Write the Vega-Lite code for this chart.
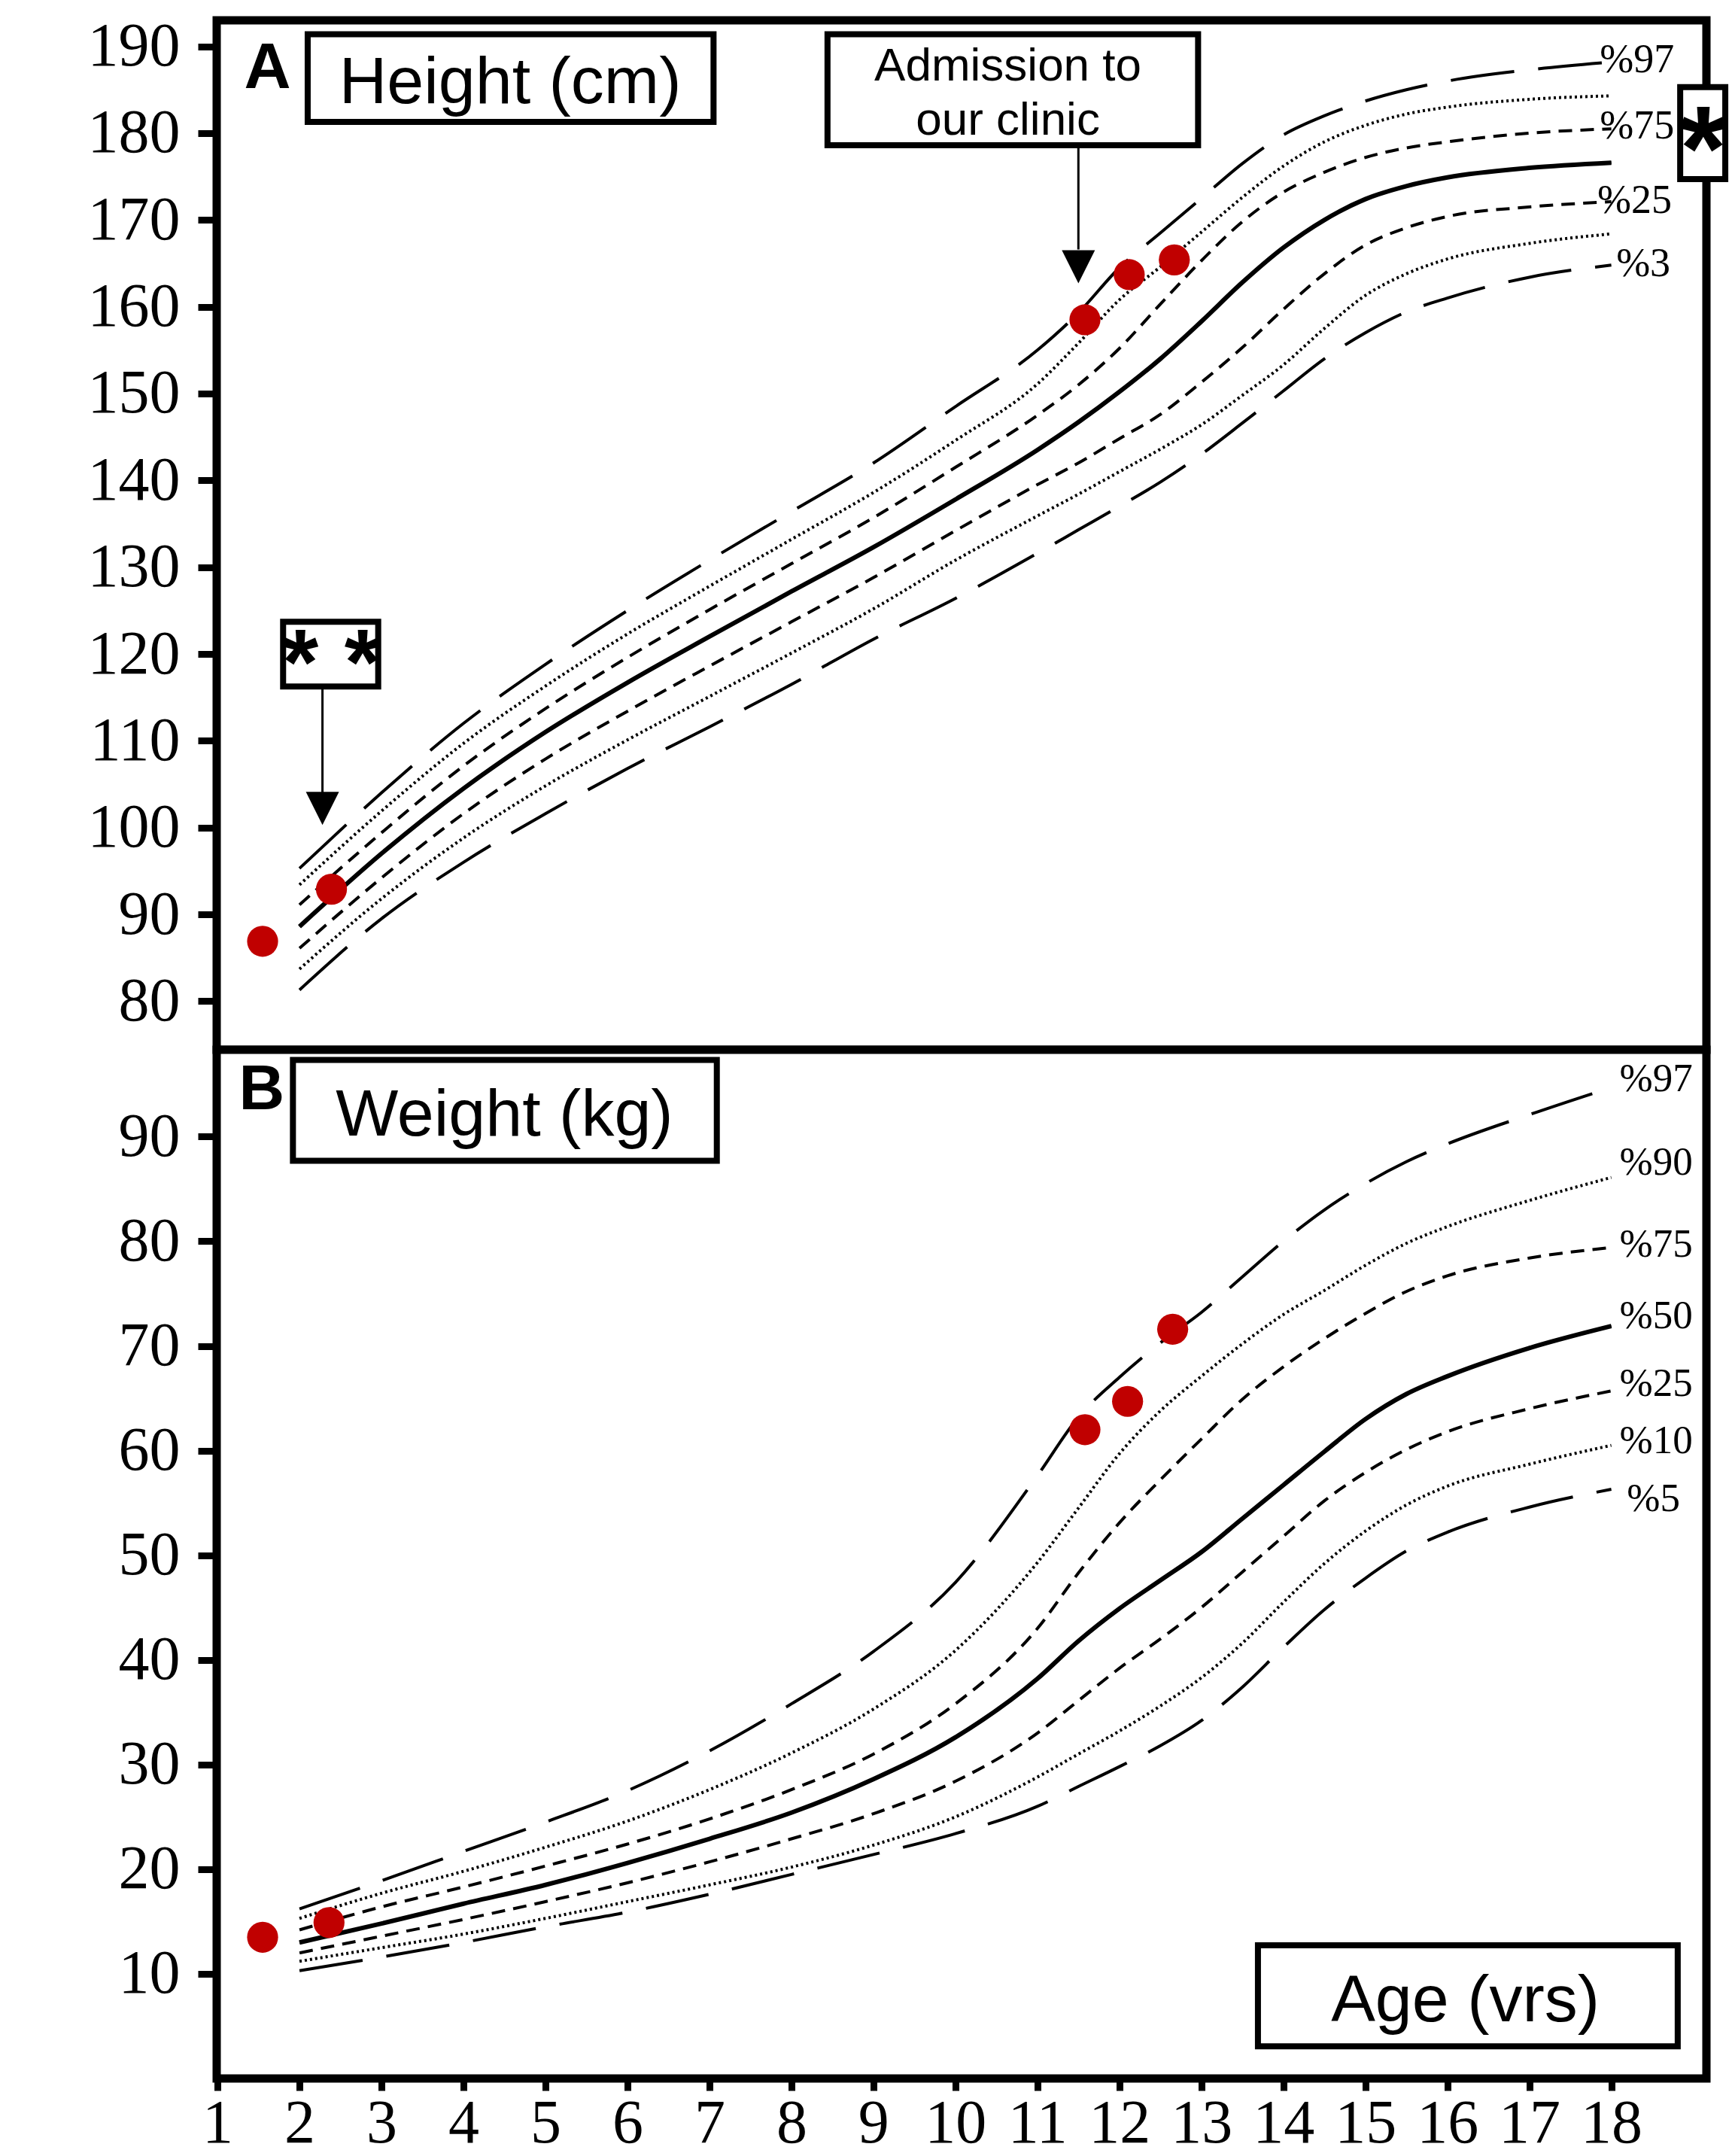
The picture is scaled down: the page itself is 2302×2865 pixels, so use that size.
{
"$schema": "https://vega.github.io/schema/vega-lite/v6.json",
"background": "white",
"padding": {"left": 110, "top": 15, "right": 5, "bottom": 0},
"spacing": 0,
"bounds": "flush",
"config": {
  "view": {"stroke": "#000", "strokeWidth": 11, "fill": "white"},
  "axis": {"domain": false, "grid": false, "ticks": true, "tickColor": "#000", "tickWidth": 9, "labelColor": "#000", "labelFont": "Liberation Serif", "labelFlush": false, "labelOverlap": false, "labelBound": false, "title": null}
},
"datasets": {
  "hgt": [
    {"age":2,"p":"97","v":95.3},{"age":3,"p":"97","v":104},{"age":4,"p":"97","v":112},{"age":5,"p":"97","v":118.8},{"age":6,"p":"97","v":125},{"age":7,"p":"97","v":130.8},{"age":8,"p":"97","v":136.4},{"age":9,"p":"97","v":142},{"age":10,"p":"97","v":148.5},{"age":11,"p":"97","v":155},{"age":11.5,"p":"97","v":159.3},{"age":12,"p":"97","v":164.5},{"age":12.5,"p":"97","v":168.5},{"age":13,"p":"97","v":172.5},{"age":13.5,"p":"97","v":176.5},{"age":14,"p":"97","v":179.8},{"age":14.5,"p":"97","v":182},{"age":15,"p":"97","v":183.7},{"age":15.5,"p":"97","v":185},{"age":16,"p":"97","v":186},{"age":17,"p":"97","v":187.3},{"age":18,"p":"97","v":188.2},
    {"age":2,"p":"90","v":93.4},{"age":3,"p":"90","v":101.9},{"age":4,"p":"90","v":109.7},{"age":5,"p":"90","v":116.3},{"age":6,"p":"90","v":122.3},{"age":7,"p":"90","v":127.8},{"age":8,"p":"90","v":133.2},{"age":9,"p":"90","v":138.6},{"age":10,"p":"90","v":144.6},{"age":11,"p":"90","v":151.1},{"age":11.5,"p":"90","v":155.8},{"age":12,"p":"90","v":160.8},{"age":12.5,"p":"90","v":164.6},{"age":13,"p":"90","v":168.6},{"age":13.5,"p":"90","v":172.6},{"age":14,"p":"90","v":176.2},{"age":14.5,"p":"90","v":179},{"age":15,"p":"90","v":180.9},{"age":15.5,"p":"90","v":182.2},{"age":16,"p":"90","v":183},{"age":17,"p":"90","v":183.9},{"age":18,"p":"90","v":184.3},
    {"age":2,"p":"75","v":91.1},{"age":3,"p":"75","v":99.4},{"age":4,"p":"75","v":107.1},{"age":5,"p":"75","v":113.7},{"age":6,"p":"75","v":119.6},{"age":7,"p":"75","v":125.1},{"age":8,"p":"75","v":130.4},{"age":9,"p":"75","v":135.7},{"age":10,"p":"75","v":141.5},{"age":11,"p":"75","v":147.5},{"age":11.5,"p":"75","v":151},{"age":12,"p":"75","v":155.2},{"age":12.5,"p":"75","v":160.3},{"age":13,"p":"75","v":165.3},{"age":13.5,"p":"75","v":169.8},{"age":14,"p":"75","v":173.2},{"age":14.5,"p":"75","v":175.5},{"age":15,"p":"75","v":177.2},{"age":15.5,"p":"75","v":178.3},{"age":16,"p":"75","v":179},{"age":17,"p":"75","v":180},{"age":18,"p":"75","v":180.5},
    {"age":2,"p":"50","v":88.6},{"age":3,"p":"50","v":97},{"age":4,"p":"50","v":104.5},{"age":5,"p":"50","v":111},{"age":6,"p":"50","v":116.7},{"age":7,"p":"50","v":122},{"age":8,"p":"50","v":127.2},{"age":9,"p":"50","v":132.3},{"age":10,"p":"50","v":137.8},{"age":11,"p":"50","v":143.5},{"age":11.5,"p":"50","v":146.7},{"age":12,"p":"50","v":150.2},{"age":12.5,"p":"50","v":154},{"age":13,"p":"50","v":158.3},{"age":13.5,"p":"50","v":162.8},{"age":14,"p":"50","v":166.8},{"age":14.5,"p":"50","v":170},{"age":15,"p":"50","v":172.4},{"age":15.5,"p":"50","v":173.9},{"age":16,"p":"50","v":174.9},{"age":17,"p":"50","v":176},{"age":18,"p":"50","v":176.6},
    {"age":2,"p":"25","v":86.1},{"age":3,"p":"25","v":94.2},{"age":4,"p":"25","v":101.6},{"age":5,"p":"25","v":107.9},{"age":6,"p":"25","v":113.4},{"age":7,"p":"25","v":118.6},{"age":8,"p":"25","v":123.7},{"age":9,"p":"25","v":128.8},{"age":10,"p":"25","v":134.2},{"age":11,"p":"25","v":139.5},{"age":11.5,"p":"25","v":142},{"age":12,"p":"25","v":144.8},{"age":12.5,"p":"25","v":147.6},{"age":13,"p":"25","v":151.3},{"age":13.5,"p":"25","v":155.3},{"age":14,"p":"25","v":159.7},{"age":14.5,"p":"25","v":163.8},{"age":15,"p":"25","v":167.1},{"age":15.5,"p":"25","v":169.1},{"age":16,"p":"25","v":170.4},{"age":17,"p":"25","v":171.5},{"age":18,"p":"25","v":172.1},
    {"age":2,"p":"10","v":83.7},{"age":3,"p":"10","v":91.8},{"age":4,"p":"10","v":98.8},{"age":5,"p":"10","v":104.8},{"age":6,"p":"10","v":110.1},{"age":7,"p":"10","v":115.1},{"age":8,"p":"10","v":120.1},{"age":9,"p":"10","v":125.2},{"age":10,"p":"10","v":130.8},{"age":11,"p":"10","v":135.9},{"age":11.5,"p":"10","v":138.4},{"age":12,"p":"10","v":141},{"age":12.5,"p":"10","v":143.6},{"age":13,"p":"10","v":146.4},{"age":13.5,"p":"10","v":149.8},{"age":14,"p":"10","v":153.3},{"age":14.5,"p":"10","v":157.5},{"age":15,"p":"10","v":161.3},{"age":15.5,"p":"10","v":163.8},{"age":16,"p":"10","v":165.5},{"age":17,"p":"10","v":167.3},{"age":18,"p":"10","v":168.4},
    {"age":2,"p":"3","v":81.3},{"age":3,"p":"3","v":89.5},{"age":4,"p":"3","v":96},{"age":5,"p":"3","v":101.6},{"age":6,"p":"3","v":106.8},{"age":7,"p":"3","v":111.6},{"age":8,"p":"3","v":116.5},{"age":9,"p":"3","v":121.7},{"age":10,"p":"3","v":126.4},{"age":11,"p":"3","v":131.6},{"age":11.5,"p":"3","v":134.3},{"age":12,"p":"3","v":137},{"age":12.5,"p":"3","v":139.8},{"age":13,"p":"3","v":143},{"age":13.5,"p":"3","v":146.6},{"age":14,"p":"3","v":150.3},{"age":14.5,"p":"3","v":154},{"age":15,"p":"3","v":157},{"age":15.5,"p":"3","v":159.4},{"age":16,"p":"3","v":161},{"age":17,"p":"3","v":163.4},{"age":18,"p":"3","v":164.8}
  ],
  "wgt": [
    {"age":2,"p":"97","v":16.2},{"age":3,"p":"97","v":18.9},{"age":4,"p":"97","v":21.7},{"age":5,"p":"97","v":24.5},{"age":6,"p":"97","v":27.5},{"age":7,"p":"97","v":31.3},{"age":8,"p":"97","v":35.8},{"age":9,"p":"97","v":40.8},{"age":10,"p":"97","v":47.4},{"age":11,"p":"97","v":57.6},{"age":11.5,"p":"97","v":63.2},{"age":12,"p":"97","v":67},{"age":12.5,"p":"97","v":70.3},{"age":13,"p":"97","v":73.2},{"age":13.5,"p":"97","v":76.6},{"age":14,"p":"97","v":80},{"age":14.5,"p":"97","v":83},{"age":15,"p":"97","v":85.5},{"age":15.5,"p":"97","v":87.6},{"age":16,"p":"97","v":89.3},{"age":17,"p":"97","v":92.1},{"age":18,"p":"97","v":94.7},
    {"age":2,"p":"90","v":15.3},{"age":3,"p":"90","v":17.7},{"age":4,"p":"90","v":19.8},{"age":5,"p":"90","v":22.1},{"age":6,"p":"90","v":24.6},{"age":7,"p":"90","v":27.6},{"age":8,"p":"90","v":31.1},{"age":9,"p":"90","v":35.3},{"age":10,"p":"90","v":40.9},{"age":11,"p":"90","v":49.3},{"age":11.5,"p":"90","v":54.5},{"age":12,"p":"90","v":59.7},{"age":12.5,"p":"90","v":63.8},{"age":13,"p":"90","v":67.1},{"age":13.5,"p":"90","v":70.2},{"age":14,"p":"90","v":73},{"age":14.5,"p":"90","v":75.3},{"age":15,"p":"90","v":77.7},{"age":15.5,"p":"90","v":79.8},{"age":16,"p":"90","v":81.4},{"age":17,"p":"90","v":83.9},{"age":18,"p":"90","v":86.1},
    {"age":2,"p":"75","v":14.2},{"age":3,"p":"75","v":16.4},{"age":4,"p":"75","v":18.3},{"age":5,"p":"75","v":20.3},{"age":6,"p":"75","v":22.4},{"age":7,"p":"75","v":24.8},{"age":8,"p":"75","v":27.6},{"age":9,"p":"75","v":31},{"age":10,"p":"75","v":35.8},{"age":11,"p":"75","v":43},{"age":11.5,"p":"75","v":48.3},{"age":12,"p":"75","v":53.1},{"age":12.5,"p":"75","v":57.2},{"age":13,"p":"75","v":61.1},{"age":13.5,"p":"75","v":64.9},{"age":14,"p":"75","v":68},{"age":14.5,"p":"75","v":70.7},{"age":15,"p":"75","v":73.1},{"age":15.5,"p":"75","v":75.2},{"age":16,"p":"75","v":76.7},{"age":17,"p":"75","v":78.4},{"age":18,"p":"75","v":79.4},
    {"age":2,"p":"50","v":13},{"age":3,"p":"50","v":14.8},{"age":4,"p":"50","v":16.7},{"age":5,"p":"50","v":18.5},{"age":6,"p":"50","v":20.6},{"age":7,"p":"50","v":22.9},{"age":8,"p":"50","v":25.4},{"age":9,"p":"50","v":28.6},{"age":10,"p":"50","v":32.6},{"age":11,"p":"50","v":38.2},{"age":11.5,"p":"50","v":41.8},{"age":12,"p":"50","v":44.9},{"age":12.5,"p":"50","v":47.6},{"age":13,"p":"50","v":50.3},{"age":13.5,"p":"50","v":53.5},{"age":14,"p":"50","v":56.7},{"age":14.5,"p":"50","v":59.9},{"age":15,"p":"50","v":63},{"age":15.5,"p":"50","v":65.4},{"age":16,"p":"50","v":67.1},{"age":17,"p":"50","v":69.8},{"age":18,"p":"50","v":71.9},
    {"age":2,"p":"25","v":12},{"age":3,"p":"25","v":13.6},{"age":4,"p":"25","v":15.2},{"age":5,"p":"25","v":16.9},{"age":6,"p":"25","v":18.7},{"age":7,"p":"25","v":20.7},{"age":8,"p":"25","v":22.9},{"age":9,"p":"25","v":25.3},{"age":10,"p":"25","v":28.4},{"age":11,"p":"25","v":33},{"age":11.5,"p":"25","v":36.1},{"age":12,"p":"25","v":39.2},{"age":12.5,"p":"25","v":42},{"age":13,"p":"25","v":45},{"age":13.5,"p":"25","v":48.4},{"age":14,"p":"25","v":51.8},{"age":14.5,"p":"25","v":55.2},{"age":15,"p":"25","v":57.9},{"age":15.5,"p":"25","v":60.1},{"age":16,"p":"25","v":61.8},{"age":17,"p":"25","v":64},{"age":18,"p":"25","v":65.7},
    {"age":2,"p":"10","v":11.2},{"age":3,"p":"10","v":12.5},{"age":4,"p":"10","v":13.8},{"age":5,"p":"10","v":15.3},{"age":6,"p":"10","v":16.9},{"age":7,"p":"10","v":18.5},{"age":8,"p":"10","v":20.2},{"age":9,"p":"10","v":22.3},{"age":10,"p":"10","v":25},{"age":11,"p":"10","v":28.8},{"age":11.5,"p":"10","v":31},{"age":12,"p":"10","v":33.2},{"age":12.5,"p":"10","v":35.6},{"age":13,"p":"10","v":38.3},{"age":13.5,"p":"10","v":41.6},{"age":14,"p":"10","v":45.5},{"age":14.5,"p":"10","v":49.2},{"age":15,"p":"10","v":52.3},{"age":15.5,"p":"10","v":54.8},{"age":16,"p":"10","v":56.6},{"age":17,"p":"10","v":58.7},{"age":18,"p":"10","v":60.5},
    {"age":2,"p":"5","v":10.3},{"age":3,"p":"5","v":11.6},{"age":4,"p":"5","v":13},{"age":5,"p":"5","v":14.5},{"age":6,"p":"5","v":15.9},{"age":7,"p":"5","v":17.6},{"age":8,"p":"5","v":19.5},{"age":9,"p":"5","v":21.4},{"age":10,"p":"5","v":23.4},{"age":11,"p":"5","v":26},{"age":11.5,"p":"5","v":27.9},{"age":12,"p":"5","v":29.8},{"age":12.5,"p":"5","v":31.8},{"age":13,"p":"5","v":34.2},{"age":13.5,"p":"5","v":37.4},{"age":14,"p":"5","v":41.2},{"age":14.5,"p":"5","v":44.8},{"age":15,"p":"5","v":47.8},{"age":15.5,"p":"5","v":50.4},{"age":16,"p":"5","v":52.2},{"age":17,"p":"5","v":54.6},{"age":18,"p":"5","v":56.3}
  ],
  "hDots": [{"age":1.55,"v":86.9},{"age":2.39,"v":92.9},{"age":11.58,"v":158.5},{"age":12.12,"v":163.7},{"age":12.67,"v":165.4}],
  "wDots": [{"age":1.55,"v":13.5},{"age":2.36,"v":14.9},{"age":11.58,"v":62.0},{"age":12.1,"v":64.7},{"age":12.65,"v":71.6}],
  "hBoxes": [{"age":2.10,"age2":7.05,"v":191.4,"v2":181.3},{"age":8.44,"age2":12.96,"v":191.4,"v2":178.6},{"age":1.80,"age2":2.96,"v":123.7,"v2":116.25},{"age":18.84,"age2":19.39,"v":185.3,"v2":174.7}],
  "wBoxes": [{"age":1.92,"age2":7.09,"v":97.33,"v2":87.7},{"age":13.69,"age2":18.81,"v":12.72,"v2":3.08}],
  "hArrows": [{"age":11.5,"v":178.6,"v2":166.6},{"age":2.28,"v":116.25,"v2":104.0}],
  "hHeads": [{"age":11.5,"v":164.6},{"age":2.28,"v":102.2}],
  "hBig": [{"age":4.57,"v":183.5,"t":"Height (cm)"}],
  "hAdm": [{"age":10.64,"v":186.1,"t":"Admission to"},{"age":10.64,"v":179.8,"t":"our clinic"}],
  "hLetter": [{"age":1.61,"v":185.2,"t":"A"}],
  "hStar2": [{"age":2.39,"v":115.3,"t":"* *"}],
  "hStar1": [{"age":19.12,"v":173.5,"t":"*"}],
  "hPct": [{"age":17.86,"v":188.4,"t":"%97"},{"age":17.86,"v":180.8,"t":"%75"},{"age":17.83,"v":172.2,"t":"%25"},{"age":18.06,"v":164.9,"t":"%3"}],
  "wBig": [{"age":4.5,"v":90.07,"t":"Weight (kg)"},{"age":16.22,"v":5.46,"t":"Age (vrs)"}],
  "wLetter": [{"age":1.54,"v":92.6,"t":"B"}],
  "wPct": [{"age":18.1,"v":95.5,"t":"%97"},{"age":18.1,"v":87.5,"t":"%90"},{"age":18.1,"v":79.7,"t":"%75"},{"age":18.1,"v":72.85,"t":"%50"},{"age":18.1,"v":66.4,"t":"%25"},{"age":18.1,"v":60.9,"t":"%10"},{"age":18.19,"v":55.4,"t":"%5"}]
},
"vconcat": [
  {
    "width": 1980, "height": 1368,
    "encoding": {
      "x": {"field": "age", "type": "quantitative", "scale": {"domain": [0.99, 19.16], "nice": false, "zero": false}, "axis": null},
      "y": {"field": "v", "type": "quantitative", "scale": {"domain": [74.4, 193], "nice": false, "zero": false}, "axis": {"values": [80,90,100,110,120,130,140,150,160,170,180,190], "tickSize": 25, "labelPadding": 24, "labelFontSize": 82}}
    },
    "layer": [
      {"data": {"name": "hgt"}, "mark": {"type": "line", "interpolate": "monotone", "color": "#000", "strokeWidth": 4}, "encoding": {"strokeDash": {"field": "p", "type": "nominal", "scale": {"domain": ["97","90","75","50","25","10","3"], "range": [[85,32],[3,4],[18,11],[1,0],[18,11],[3,4],[85,32]]}, "legend": null}}},
      {"data": {"name": "hgt"}, "transform": [{"filter": "datum.p === '50'"}], "mark": {"type": "line", "interpolate": "monotone", "color": "#000", "strokeWidth": 6}},
      {"data": {"name": "hDots"}, "mark": {"type": "circle", "color": "#c00000", "opacity": 1, "size": 1700}},
      {"data": {"name": "hBoxes"}, "mark": {"type": "rect", "fill": "white", "stroke": "#000", "strokeWidth": 8}, "encoding": {"x2": {"field": "age2"}, "y2": {"field": "v2"}}},
      {"data": {"name": "hArrows"}, "mark": {"type": "rule", "color": "#000", "strokeWidth": 3}, "encoding": {"y2": {"field": "v2"}}},
      {"data": {"name": "hHeads"}, "mark": {"type": "point", "shape": "M-1,-1L1,-1L0,1Z", "filled": true, "color": "#000", "opacity": 1, "size": 1936}},
      {"data": {"name": "hBig"}, "mark": {"type": "text", "font": "Liberation Sans", "fontSize": 88, "align": "center", "baseline": "alphabetic", "color": "#000"}, "encoding": {"text": {"field": "t"}}},
      {"data": {"name": "hAdm"}, "mark": {"type": "text", "font": "Liberation Sans", "fontSize": 62, "align": "center", "baseline": "alphabetic", "color": "#000"}, "encoding": {"text": {"field": "t"}}},
      {"data": {"name": "hLetter"}, "mark": {"type": "text", "font": "Liberation Sans", "fontWeight": "bold", "fontSize": 86, "align": "center", "baseline": "alphabetic", "color": "#000"}, "encoding": {"text": {"field": "t"}}},
      {"data": {"name": "hStar2"}, "mark": {"type": "text", "font": "Liberation Sans", "fontWeight": "bold", "fontSize": 124, "align": "center", "baseline": "alphabetic", "color": "#000"}, "encoding": {"text": {"field": "t"}}},
      {"data": {"name": "hStar1"}, "mark": {"type": "text", "font": "Liberation Sans", "fontWeight": "bold", "fontSize": 160, "align": "center", "baseline": "alphabetic", "color": "#000"}, "encoding": {"text": {"field": "t"}}},
      {"data": {"name": "hPct"}, "mark": {"type": "text", "font": "Liberation Serif", "fontSize": 54, "align": "left", "baseline": "middle", "color": "#000"}, "encoding": {"text": {"field": "t"}}}
    ]
  },
  {
    "width": 1980, "height": 1367,
    "encoding": {
      "x": {"field": "age", "type": "quantitative", "scale": {"domain": [0.99, 19.16], "nice": false, "zero": false}, "axis": {"values": [1,2,3,4,5,6,7,8,9,10,11,12,13,14,15,16,17,18], "format": "d", "tickSize": 16, "labelPadding": 3, "labelFontSize": 82}},
      "y": {"field": "v", "type": "quantitative", "scale": {"domain": [0, 98.3], "nice": false, "zero": false}, "axis": {"values": [10,20,30,40,50,60,70,80,90], "tickSize": 25, "labelPadding": 24, "labelFontSize": 82}}
    },
    "layer": [
      {"data": {"name": "wgt"}, "mark": {"type": "line", "interpolate": "monotone", "color": "#000", "strokeWidth": 4}, "encoding": {"strokeDash": {"field": "p", "type": "nominal", "scale": {"domain": ["97","90","75","50","25","10","5"], "range": [[85,32],[3,4],[18,11],[1,0],[18,11],[3,4],[85,32]]}, "legend": null}}},
      {"data": {"name": "wgt"}, "transform": [{"filter": "datum.p === '50'"}], "mark": {"type": "line", "interpolate": "monotone", "color": "#000", "strokeWidth": 6}},
      {"data": {"name": "wDots"}, "mark": {"type": "circle", "color": "#c00000", "opacity": 1, "size": 1700}},
      {"data": {"name": "wBoxes"}, "mark": {"type": "rect", "fill": "white", "stroke": "#000", "strokeWidth": 8}, "encoding": {"x2": {"field": "age2"}, "y2": {"field": "v2"}}},
      {"data": {"name": "wBig"}, "mark": {"type": "text", "font": "Liberation Sans", "fontSize": 88, "align": "center", "baseline": "alphabetic", "color": "#000"}, "encoding": {"text": {"field": "t"}}},
      {"data": {"name": "wLetter"}, "mark": {"type": "text", "font": "Liberation Sans", "fontWeight": "bold", "fontSize": 84, "align": "center", "baseline": "alphabetic", "color": "#000"}, "encoding": {"text": {"field": "t"}}},
      {"data": {"name": "wPct"}, "mark": {"type": "text", "font": "Liberation Serif", "fontSize": 53, "align": "left", "baseline": "middle", "color": "#000"}, "encoding": {"text": {"field": "t"}}}
    ]
  }
]
}
